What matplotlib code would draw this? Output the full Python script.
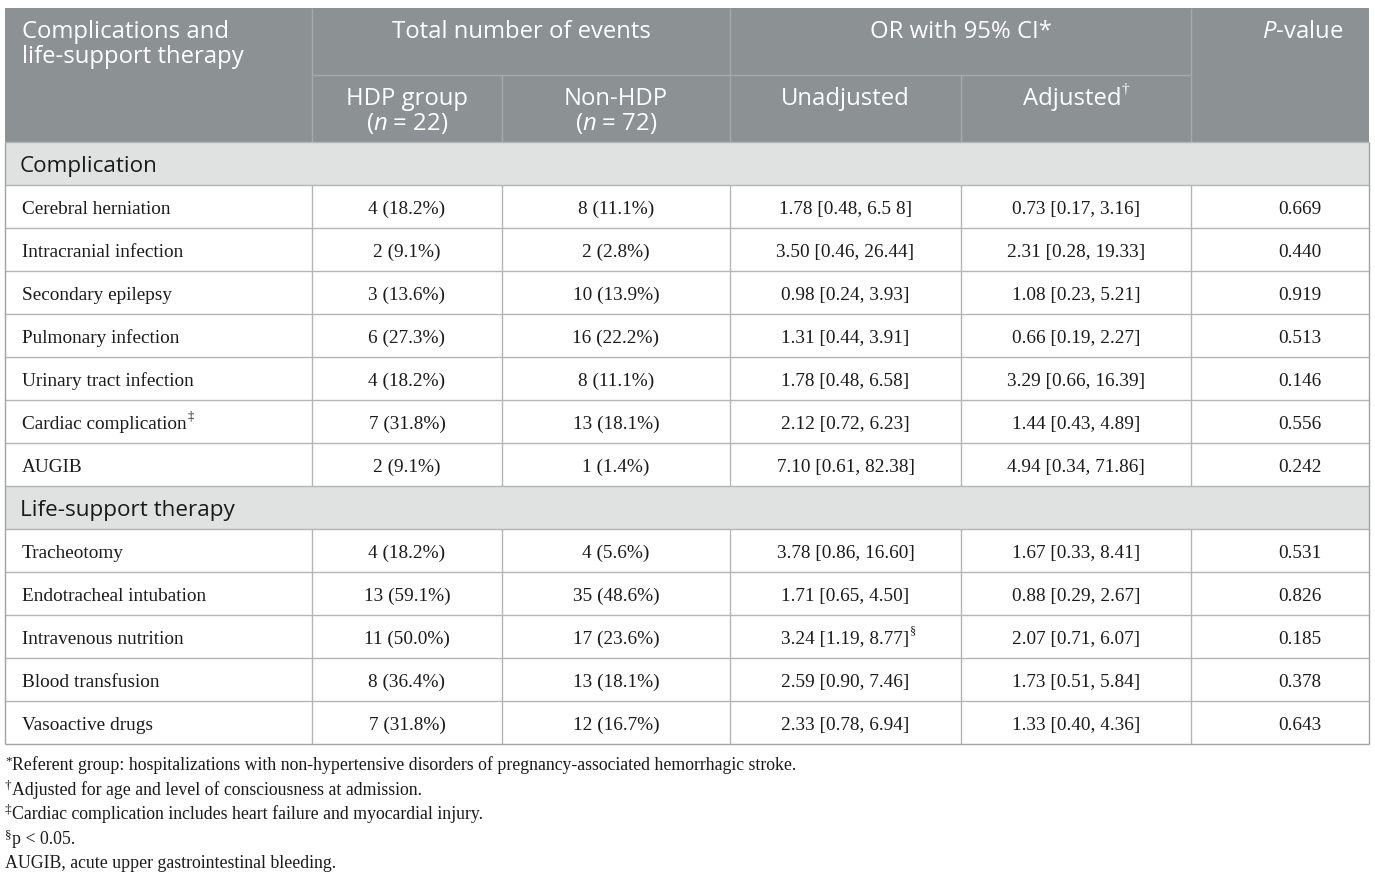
import matplotlib
matplotlib.use("Agg")
import matplotlib.pyplot as plt

plt.rcParams['mathtext.fontset'] = 'custom'
plt.rcParams['mathtext.rm'] = 'Open Sans'
plt.rcParams['mathtext.it'] = 'Open Sans:italic'

# ---- table content ----
sections = ["Complication", "Life-support therapy"]

comp_names = ["Cerebral herniation", "Intracranial infection", "Secondary epilepsy",
              "Pulmonary infection", "Urinary tract infection", "Cardiac complication", "AUGIB"]
comp_hdp = ["4 (18.2%)", "2 (9.1%)", "3 (13.6%)", "6 (27.3%)", "4 (18.2%)", "7 (31.8%)", "2 (9.1%)"]
comp_non = ["8 (11.1%)", "2 (2.8%)", "10 (13.9%)", "16 (22.2%)", "8 (11.1%)", "13 (18.1%)", "1 (1.4%)"]
comp_unadj = ["1.78 [0.48, 6.5 8]", "3.50 [0.46, 26.44]", "0.98 [0.24, 3.93]", "1.31 [0.44, 3.91]",
              "1.78 [0.48, 6.58]", "2.12 [0.72, 6.23]", "7.10 [0.61, 82.38]"]
comp_adj = ["0.73 [0.17, 3.16]", "2.31 [0.28, 19.33]", "1.08 [0.23, 5.21]", "0.66 [0.19, 2.27]",
            "3.29 [0.66, 16.39]", "1.44 [0.43, 4.89]", "4.94 [0.34, 71.86]"]
comp_p = ["0.669", "0.440", "0.919", "0.513", "0.146", "0.556", "0.242"]
comp_name_marks = {"Cardiac complication": "\u2021"}

life_names = ["Tracheotomy", "Endotracheal intubation", "Intravenous nutrition",
              "Blood transfusion", "Vasoactive drugs"]
life_hdp = ["4 (18.2%)", "13 (59.1%)", "11 (50.0%)", "8 (36.4%)", "7 (31.8%)"]
life_non = ["4 (5.6%)", "35 (48.6%)", "17 (23.6%)", "13 (18.1%)", "12 (16.7%)"]
life_unadj = ["3.78 [0.86, 16.60]", "1.71 [0.65, 4.50]", "3.24 [1.19, 8.77]",
              "2.59 [0.90, 7.46]", "2.33 [0.78, 6.94]"]
life_adj = ["1.67 [0.33, 8.41]", "0.88 [0.29, 2.67]", "2.07 [0.71, 6.07]",
            "1.73 [0.51, 5.84]", "1.33 [0.40, 4.36]"]
life_p = ["0.531", "0.826", "0.185", "0.378", "0.643"]
life_unadj_marks = {"3.24 [1.19, 8.77]": "\u00a7"}

footnotes = [("*", "Referent group: hospitalizations with non-hypertensive disorders of pregnancy-associated hemorrhagic stroke."),
             ("\u2020", "Adjusted for age and level of consciousness at admission."),
             ("\u2021", "Cardiac complication includes heart failure and myocardial injury."),
             ("\u00a7", "p < 0.05."),
             ("", "AUGIB, acute upper gastrointestinal bleeding.")]

# ---- layout (pixels) ----
W, H = 1375, 876
col_x = [5, 312, 502, 730, 961, 1191, 1369]
hdr_top, hdr_mid, hdr_bot = 8, 75, 142
row_h = 43
sec_h = 43

HDR_BG = "#8c9193"
SEC_BG = "#e0e2e2"
LINE = "#b4b6b6"
HDR_LINE = "#a6aaab"
TXT = "#1a1a1a"
serif = "Liberation Serif"
sans = "Open Sans"
body_fs = 13.9
hdr_fs = 17.2
sec_fs = 16.2
foot_fs = 12.8

fig = plt.figure(figsize=(W / 100, H / 100), dpi=100)
ax = fig.add_axes([0, 0, 1, 1])
ax.set_xlim(0, W)
ax.set_ylim(H, 0)
ax.axis("off")

def hline(y, x0, x1, c=LINE, lw=1.0):
    ax.plot([x0, x1], [y, y], color=c, lw=lw, solid_capstyle="butt")

def vline(x, y0, y1, c=LINE, lw=1.0):
    ax.plot([x, x], [y0, y1], color=c, lw=lw, solid_capstyle="butt")

def sup(artist, mark, fs, color=TXT, family=serif):
    ax.annotate(mark, xy=(1, 0.62), xycoords=artist, xytext=(0.5, 0),
                textcoords="offset points", fontsize=fs, color=color,
                family=family, ha="left", va="bottom")

# header
ax.add_patch(plt.Rectangle((col_x[0], hdr_top), col_x[-1] - col_x[0], hdr_bot - hdr_top,
                           color=HDR_BG, lw=0))
for x in [col_x[1], col_x[3], col_x[5]]:
    vline(x, hdr_top, hdr_bot, HDR_LINE)
for x in [col_x[2], col_x[4]]:
    vline(x, hdr_mid, hdr_bot, HDR_LINE)
hline(hdr_mid, col_x[1], col_x[5], HDR_LINE)

hk = dict(color="white", fontsize=hdr_fs, family=sans, va="center")
ax.text(22, 32, "Complications and", ha="left", **hk)
ax.text(22, 57, "life-support therapy", ha="left", **hk)
ax.text((col_x[1] + col_x[3]) / 2, 32, "Total number of events", ha="center", **hk)
ax.text((col_x[3] + col_x[5]) / 2, 32, "OR with 95% CI*", ha="center", **hk)
ax.text(1303, 32, r"$\it{P}$-value", ha="center", **hk)
ax.text((col_x[1] + col_x[2]) / 2, 99, "HDP group", ha="center", **hk)
ax.text((col_x[1] + col_x[2]) / 2, 123, r"($\it{n}$ = 22)", ha="center", **hk)
ax.text((col_x[2] + col_x[3]) / 2, 99, "Non-HDP", ha="center", **hk)
ax.text((col_x[2] + col_x[3]) / 2, 123, r"($\it{n}$ = 72)", ha="center", **hk)
ax.text((col_x[3] + col_x[4]) / 2, 99, "Unadjusted", ha="center", **hk)
t = ax.text((col_x[4] + col_x[5]) / 2 - 4, 99, "Adjusted", ha="center", **hk)
sup(t, "\u2020", 11, color="white", family=serif)

# body
def draw_section(y, title, names, hdp, non, unadj, adj, pv, name_marks, unadj_marks):
    ax.add_patch(plt.Rectangle((col_x[0], y), col_x[-1] - col_x[0], sec_h, color=SEC_BG, lw=0))
    ax.text(20, y + sec_h / 2 + 3, title, ha="left", va="center", fontsize=sec_fs,
            family=sans, color=TXT)
    hline(y, col_x[0], col_x[-1])
    y += sec_h
    for i in range(len(names)):
        y0 = y + i * row_h
        yc = y0 + row_h / 2 + 3
        hline(y0, col_x[0], col_x[-1])
        for x in col_x[1:-1]:
            vline(x, y0, y0 + row_h)
        bk = dict(fontsize=body_fs, family=serif, color=TXT, va="center")
        t = ax.text(22, yc, names[i], ha="left", **bk)
        if names[i] in name_marks:
            sup(t, name_marks[names[i]], 9)
        ax.text((col_x[1] + col_x[2]) / 2, yc, hdp[i], ha="center", **bk)
        ax.text((col_x[2] + col_x[3]) / 2, yc, non[i], ha="center", **bk)
        t = ax.text((col_x[3] + col_x[4]) / 2, yc, unadj[i], ha="center", **bk)
        if unadj[i] in unadj_marks:
            sup(t, unadj_marks[unadj[i]], 9)
        ax.text((col_x[4] + col_x[5]) / 2, yc, adj[i], ha="center", **bk)
        ax.text(1300, yc, pv[i], ha="center", **bk)
    return y + len(names) * row_h

y = hdr_bot
y = draw_section(y, sections[0], comp_names, comp_hdp, comp_non, comp_unadj, comp_adj,
                 comp_p, comp_name_marks, {})
y = draw_section(y, sections[1], life_names, life_hdp, life_non, life_unadj, life_adj,
                 life_p, {}, life_unadj_marks)
hline(y, col_x[0], col_x[-1], "#a0a3a3")
vline(col_x[0], hdr_bot, y, "#a0a3a3")
vline(col_x[-1], hdr_bot, y, "#a0a3a3")

# footnotes
fy = [765, 790, 814, 839, 863]
for (mark, txt), yy in zip(footnotes, fy):
    x = 5
    if mark:
        m = ax.text(x, yy - 4, mark, ha="left", va="center", fontsize=9.5, family=serif, color=TXT)
        ax.annotate(txt, xy=(1, 0.5), xycoords=m, xytext=(0.3, -3), textcoords="offset points",
                    ha="left", va="center", fontsize=foot_fs, family=serif, color=TXT)
    else:
        ax.text(x, yy, txt, ha="left", va="center", fontsize=foot_fs, family=serif, color=TXT)

fig.savefig("out.png", dpi=100)
